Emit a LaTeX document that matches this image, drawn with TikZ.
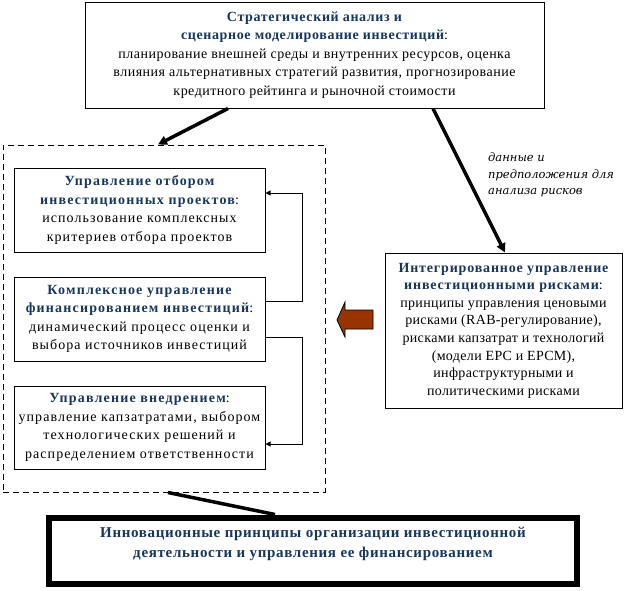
\documentclass[tikz,border=0pt]{standalone}
\usepackage{fontspec}
\setmainfont{Liberation Serif}
\newfontfamily\lblfont{DejaVu Serif}
\usetikzlibrary{arrows.meta,calc}
\definecolor{navy}{RGB}{23,54,93}
\definecolor{brownarrow}{RGB}{153,51,0}
\def\hdls{0}
\newcommand\hdx[1]{{\bfseries\color{navy}\addfontfeature{LetterSpace=\hdls}#1}}
\begin{document}
\begin{tikzpicture}[x=1pt,y=-1pt,
  box/.style={draw,line width=1pt,align=center,inner sep=0pt},
  topfont/.style={font=\fontsize{14}{18.5}\selectfont\addfontfeature{LetterSpace=3.5}\def\hdls{4.5}},
  innerfont/.style={font=\fontsize{14}{18.5}\selectfont\addfontfeature{LetterSpace=7.5}\def\hdls{8.5}},
  rightfont/.style={font=\fontsize{14}{17.6}\selectfont\addfontfeature{LetterSpace=2.5}\def\hdls{6}},
  thickarrow/.style={line width=3.5pt,-{Triangle[length=9pt,width=9pt]}},
  fb/.style={line width=0.9pt,-{Triangle[length=5pt,width=5pt]}},
  lbl/.style={font=\lblfont\fontsize{11.5}{16.5}\selectfont\itshape,align=left,inner sep=0pt}
]
\useasboundingbox (0,0) rectangle (626,590);
% top box
\node[box,topfont,minimum width=459pt,minimum height=106pt] (top) at (314.5,55)
 {\hdx{Стратегический анализ и}\\
  \hdx{сценарное моделирование инвестиций}:\\
  планирование внешней среды и внутренних ресурсов, оценка\\
  влияния альтернативных стратегий развития, прогнозирование\\
  кредитного рейтинга и рыночной стоимости};
% dashed group
\node[draw,line width=1pt,dash pattern=on 6pt off 4pt,minimum width=322pt,minimum height=347pt,inner sep=0pt] (group) at (164,318.5) {};
% inner boxes
\node[box,innerfont,minimum width=251pt,minimum height=84pt] (b1) at (139.5,210)
 {\hdx{Управление отбором}\\
  \hdx{инвестиционных проектов}:\\
  использование комплексных\\
  критериев отбора проектов};
\node[box,innerfont,minimum width=251pt,minimum height=84pt] (b2) at (139.5,319)
 {\hdx{Комплексное управление}\\
  \hdx{финансированием инвестиций}:\\
  динамический процесс оценки и\\
  выбора источников инвестиций};
\node[box,innerfont,minimum width=251pt,minimum height=83pt] (b3) at (139.5,427.5)
 {\hdx{Управление внедрением}:\\
  управление капзатратами, выбором\\
  технологических решений и\\
  распределением ответственности};
% right box
\node[box,rightfont,minimum width=237pt,minimum height=155pt] (rb) at (503.5,330.5)
 {\hdx{Интегрированное управление}\\
  \hdx{инвестиционными рисками}:\\
  принципы управления ценовыми\\
  рисками (RAB-регулирование),\\
  рисками капзатрат и технологий\\
  (модели EPC и EPCM),\\
  инфраструктурными и\\
  политическими рисками};
% bottom box
\node[draw,line width=6pt,inner sep=0pt,minimum width=528pt,minimum height=66pt] (bot) at (313,550.5) {};
\node[align=center,inner sep=0pt,
  font=\fontsize{15}{20}\selectfont\bfseries\addfontfeature{LetterSpace=4.5}\color{navy}] (bottxt) at (313,544)
 {Инновационные принципы организации инвестиционной\\
  деятельности и управления ее финансированием};
% label
\node[lbl,anchor=north west] (lab) at (488,153)
 {данные и\\предположения для\\анализа рисков};
% connectors
\draw[thickarrow] ([xshift=-86.5pt]top.south) -- ([xshift=-6pt]group.north);
\draw[thickarrow] ([xshift=118.5pt]top.south) -- ([xshift=1.5pt]rb.north);
\draw[line width=3.5pt] ([xshift=4pt]group.south) -- ([xshift=-38pt]bot.north);
\draw[fb] ([yshift=18pt]b2.east) -- ++(37,0) |- ([yshift=17pt]b1.east);
\draw[fb] ([yshift=-18pt]b2.east) -- ++(37,0) |- ([yshift=-16.5pt]b3.east);
% block arrow
\draw[fill=brownarrow,line width=0.8pt,line join=miter]
  (373,310) -- (345,310) -- (345,302) -- (337,320) -- (345,337) -- (345,329) -- (373,329) -- cycle;
\end{tikzpicture}
\end{document}
